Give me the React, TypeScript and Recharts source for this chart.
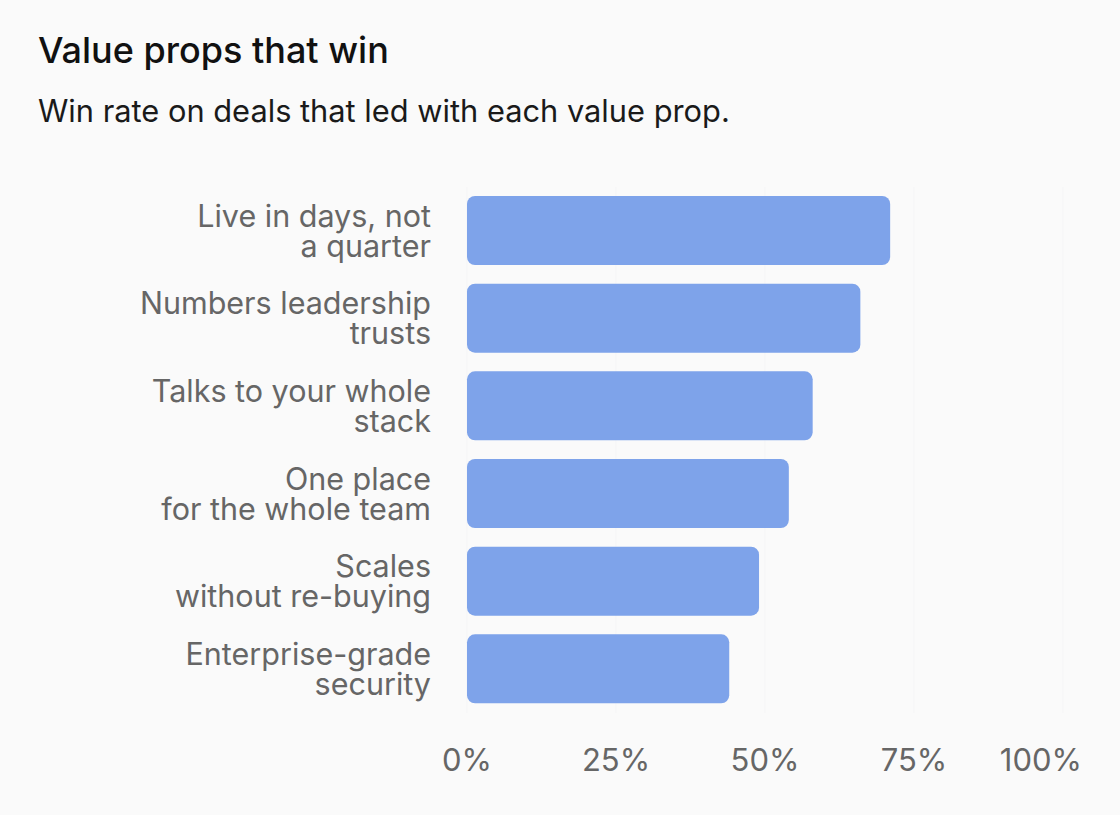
import React from 'react'
import { BarChart, Bar, XAxis, YAxis, CartesianGrid } from 'recharts'

const categories = [
  'Live in days, not\na quarter',
  'Numbers leadership\ntrusts',
  'Talks to your whole\nstack',
  'One place\nfor the whole team',
  'Scales\nwithout re-buying',
  'Enterprise-grade\nsecurity',
]
const winRates = [71, 66, 58, 54, 49, 44]
const xTicks = [0, 25, 50, 75, 100]

const data = categories.map((name, i) => ({ name, rate: winRates[i] }))

const FONT = 'Inter, "Noto Sans", sans-serif'

function CategoryTick({ x, y, payload }: any) {
  const lines = String(payload.value).split('\n')
  const lh = 30
  const start = -((lines.length - 1) * lh) / 2
  return (
    <text x={x} y={y} textAnchor="end" fill="#666666" fontSize={30.5} fontFamily={FONT}>
      {lines.map((l, i) => (
        <tspan key={i} x={x} y={y + start + i * lh} dy="0.36em">{l}</tspan>
      ))}
    </text>
  )
}

function PercentTick({ x, y, payload }: any) {
  const last = payload.value === xTicks[xTicks.length - 1]
  return (
    <text x={last ? x + 19 : x} y={y} dy="0.71em" textAnchor={last ? 'end' : 'middle'}
      fill="#666666" fontSize={31} fontFamily={FONT}>
      {`${payload.value}%`}
    </text>
  )
}

export default function App() {
  return (
    <div style={{ position: 'fixed', left: 0, top: 0, width: 1120, height: 815, background: '#fafafa', fontFamily: FONT }}>
      <div style={{ position: 'absolute', left: 38, top: 30, fontSize: 36, fontWeight: 500, lineHeight: '40px', color: '#111111' }}>
        Value props that win
      </div>
      <div style={{ position: 'absolute', left: 38, top: 94, fontSize: 30.8, lineHeight: '34px', color: '#1a1a1a' }}>
        Win rate on deals that led with each value prop.
      </div>
      <div style={{ position: 'absolute', left: 0, top: 0 }}>
        <BarChart width={1120} height={815} data={data} layout="vertical"
          margin={{ top: 187, right: 57, bottom: 0, left: 0 }}>
          <CartesianGrid horizontal={false} stroke="#f5f5f6" />
          <XAxis type="number" domain={[0, 100]} ticks={xTicks} axisLine={false} tickLine={false}
            height={102} tickMargin={30} tick={<PercentTick />} interval={0} />
          <YAxis type="category" dataKey="name" width={467} axisLine={false} tickLine={false}
            tickMargin={30} tick={<CategoryTick />} interval={0} />
          <Bar dataKey="rate" fill="#7ea3ea" barSize={69} radius={8} isAnimationActive={false} />
        </BarChart>
      </div>
    </div>
  )
}
